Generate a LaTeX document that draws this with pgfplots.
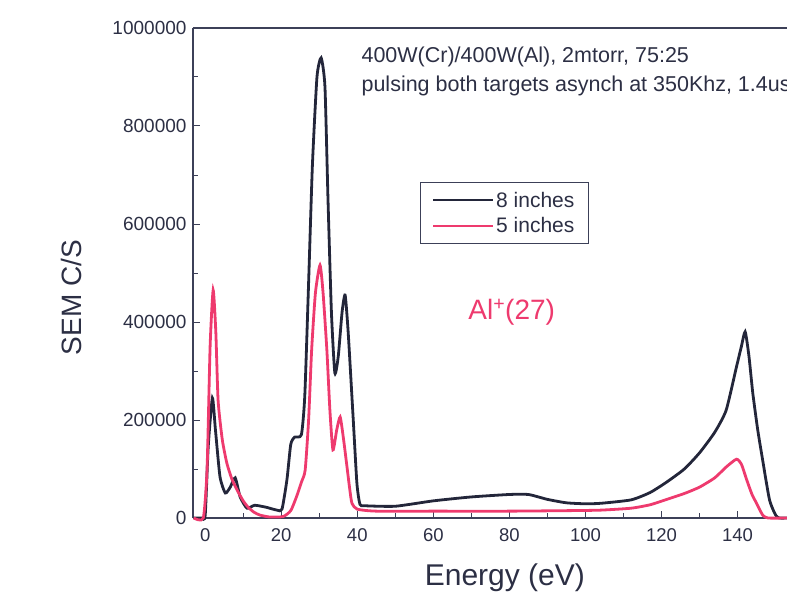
\documentclass[border=0pt]{standalone}
\usepackage{fontspec}
\setmainfont{Liberation Sans}
\usepackage{pgfplots}
\pgfplotsset{compat=1.18}
\definecolor{ink}{HTML}{23263A}
\definecolor{pinkred}{HTML}{EE3A6E}
\definecolor{axisc}{HTML}{3C4058}
\definecolor{txt}{HTML}{2C2F44}

\begin{document}
\begin{tikzpicture}
\useasboundingbox (-193pt,-77pt) rectangle (594pt,518pt);
\begin{axis}[
    scale only axis,
    width=594pt, height=490pt,
    xmin=-3.2, xmax=153,
    ymin=0, ymax=1000000,
    axis x line*=box,
    axis y line*=left,
    x axis line style={-},
    y axis line style={-},
    axis line style={axisc, line width=1.2pt},
    xtick={0,20,...,140},
    ytick={0,200000,400000,600000,800000,1000000},
    minor x tick num=1,
    minor y tick num=1,
    tick align=inside,
    xtick pos=left, ytick pos=left,
    major tick length=7pt, minor tick length=5pt,
    tick style={axisc, line width=1pt},
    scaled y ticks=false,
    /pgf/number format/.cd, fixed, 1000 sep={}, assume math mode=true,
    /pgfplots/.cd,
    yticklabel style={font=\fontsize{19}{22}\selectfont, text=txt, xshift=-3pt},
    xticklabel style={font=\fontsize{18.5}{22}\selectfont, text=txt, yshift=-7pt},
    xlabel={Energy (eV)},
    ylabel={SEM C/S},
    xlabel style={font=\fontsize{30}{34}\selectfont, text=txt, at={(axis description cs:0.525,-0.122)}, anchor=center},
    ylabel style={font=\fontsize{28}{32}\selectfont, text=txt, at={(axis description cs:-0.204,0.45)}, anchor=center},
    legend style={at={(0.382,0.685)}, anchor=north west, draw=axisc, line width=1pt,
        font=\fontsize{21}{25}\selectfont, text=txt, inner xsep=12pt, inner ysep=7pt, row sep=5pt},
    legend cell align=left,
    legend image code/.code={\draw[#1, line width=1.8pt] (0pt,0pt) -- (60pt,0pt);},
    clip=false,
]
\addplot[ink, line width=2.8pt, smooth, tension=0.35] coordinates {
(-3,0) (-1,0) (0,5000) (0.8,145000) (1.9,245000) (2.7,180000) (3.9,84000)
(5.3,51000) (6.6,63000) (7.9,82000) (9.2,43000) (11,20000) (13,26000)
(16,22000) (18.9,16000) (20.2,18000) (21.5,78000) (22.5,150000) (23.5,165000)
(25.3,170000) (26.2,250000) (27.2,480000) (28.2,720000) (29.4,900000)
(30.5,939000) (31.5,880000) (32.3,650000) (33.2,420000) (34.1,296000)
(35,330000) (36,420000) (36.8,455000) (37.6,380000) (38.9,206000)
(39.9,71000) (40.7,28000) (42,25000) (50,24000) (60,35000) (70,43000)
(80,48000) (85,48000) (90,38000) (95,31000) (100,29000) (104,30000)
(112,37000) (117,52000) (121.3,73000) (126,100000) (130,133000) (134,175000)
(137,220000) (139.7,308000) (141,350000) (142,380000) (143,330000)
(144,255000) (145.3,180000) (146.6,118000) (148.4,37000) (150,6000)
(151,0) (153,0)
};
\addlegendentry{8 inches}
\addplot[pinkred, line width=2.8pt, smooth, tension=0.35] coordinates {
(-3,0) (-0.5,0) (0.5,100000) (1.3,350000) (2.1,465000) (2.8,380000)
(3.4,240000) (4.5,160000) (5.7,112000) (7,80000) (8.4,57000) (10,35000)
(11.3,22000) (12.8,12000) (14.4,6000) (17,2000) (20.5,3000) (22.5,15000)
(24,43000) (25.4,75000) (26.3,98000) (27.2,200000) (28,343000) (29,460000)
(30.2,516000) (31,460000) (32,343000) (32.8,220000) (33.6,139000)
(34.6,180000) (35.5,206000) (36.4,160000) (37.3,104000) (38,60000)
(38.6,30000) (40,18000) (45,14000) (60,14000) (80,14000) (95,15000)
(103.8,16000) (112,20000) (117,27000) (121,37000) (126,50000) (130,63000)
(134,82000) (137,104000) (139.7,120000) (141,110000) (142.4,78000)
(143.8,48000) (145,30000) (146.6,6000) (148,0) (153,0)
};
\addlegendentry{5 inches}
\node[anchor=base west, font=\fontsize{21.5}{24}\selectfont, text=txt] at (axis cs:40.2,930600) {400W(Cr)/400W(Al), 2mtorr, 75:25};
\node[anchor=base west, font=\fontsize{21.5}{24}\selectfont, text=txt] at (axis cs:40.2,869400) {pulsing both targets asynch at 350Khz, 1.4us};
\node[font=\fontsize{28}{32}\selectfont, text=pinkred] at (axis cs:80.6,420400) {Al\textsuperscript{+}(27)};
\end{axis}
\end{tikzpicture}
\end{document}
